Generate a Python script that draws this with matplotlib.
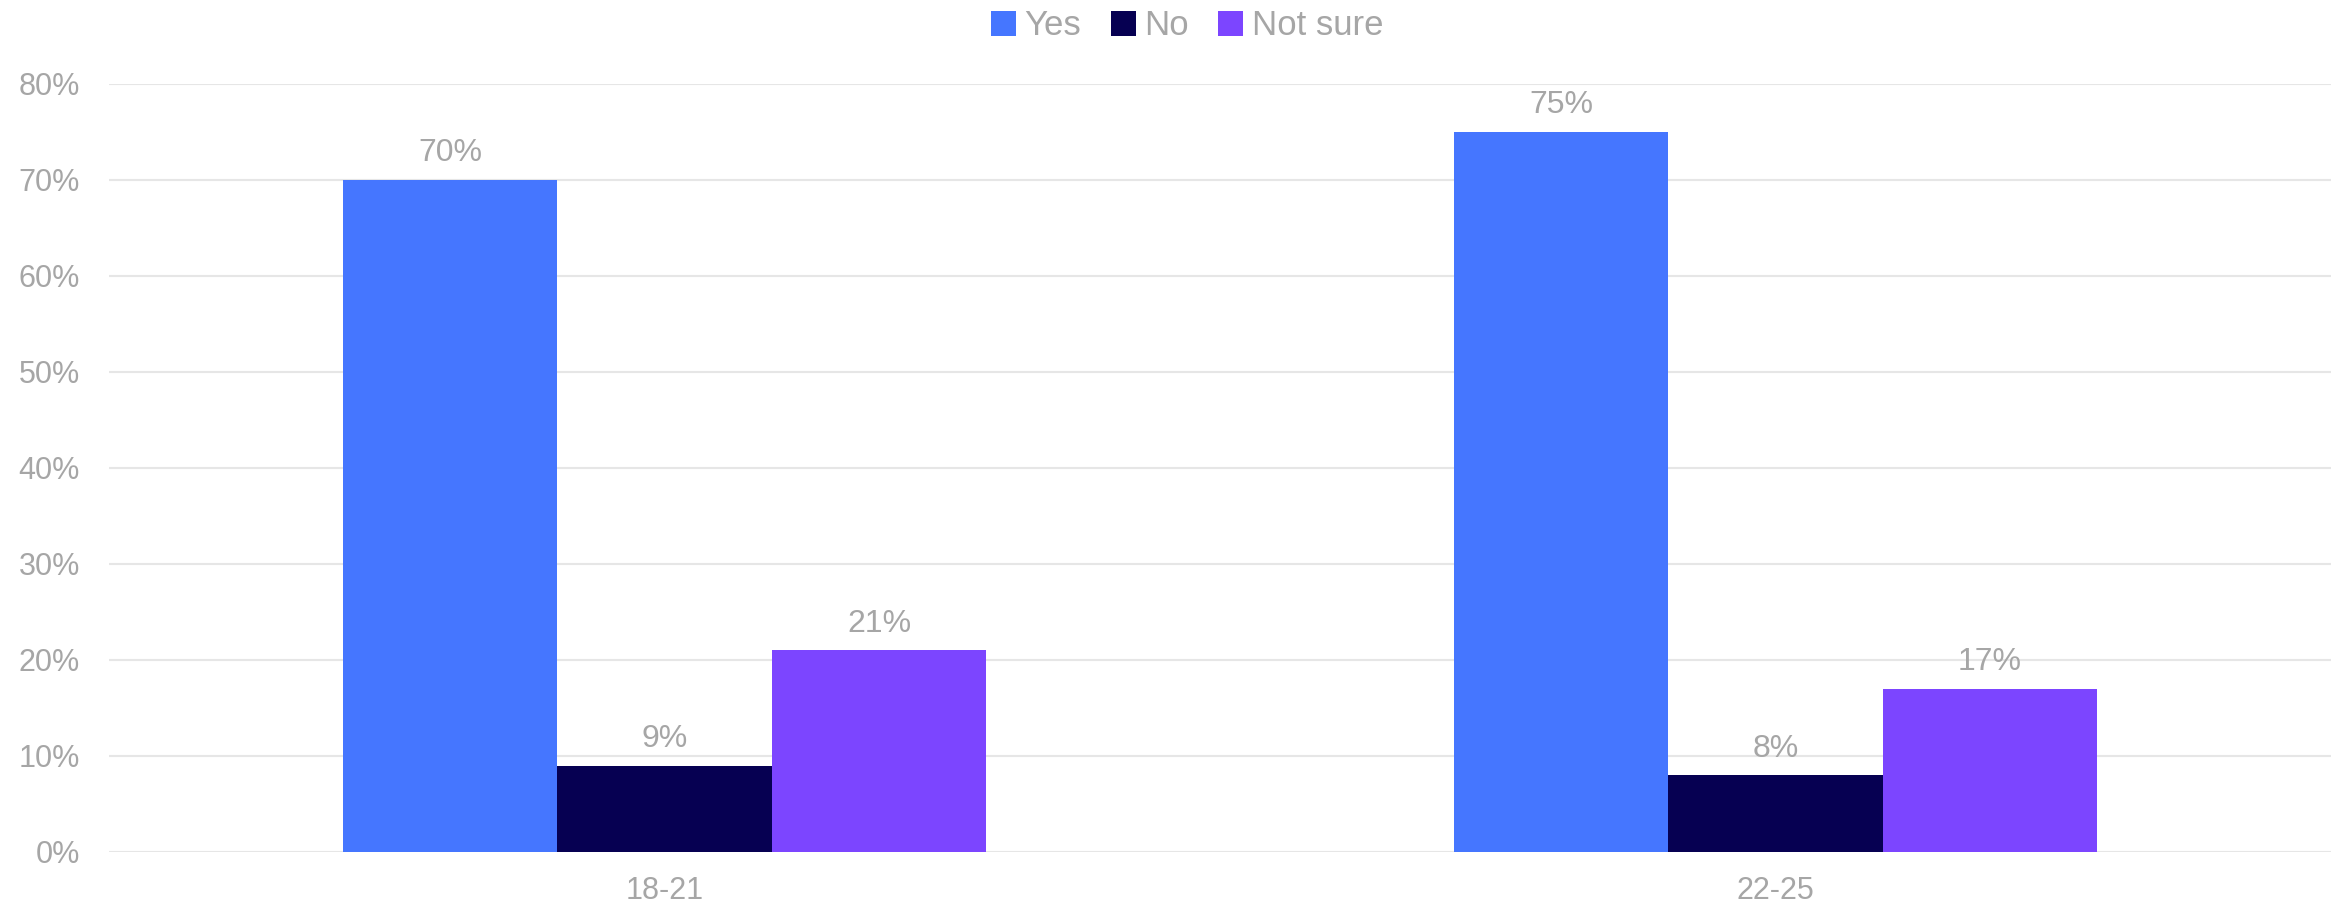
import numpy as np
import matplotlib.pyplot as plt

plt.rcParams['font.family'] = ['Liberation Sans', 'DejaVu Sans']

groups = ["18-21", "22-25"]
series = ["Yes", "No", "Not sure"]
yes = [70, 75]
no = [9, 8]
not_sure = [21, 17]
colors = ["#4576FF", "#060052", "#7C45FF"]

grey = "#A6A6A6"

fig = plt.figure(figsize=(23.46, 9.08), dpi=100)
ax = fig.add_axes([0.0465, 0.0617, 0.9471, 0.8458])

x = np.arange(len(groups))
w = 0.193
for i, (name, vals) in enumerate(zip(series, [yes, no, not_sure])):
    pos = x + (i - 1) * w
    bars = ax.bar(pos, np.array(vals) / 100, w, color=colors[i], label=name, zorder=3)
    for b, v in zip(bars, vals):
        ax.text(b.get_x() + b.get_width() / 2, b.get_height() + 0.012, f"{v}%",
                ha="center", va="bottom", fontsize=23, color=grey)

ax.set_xlim(-0.5, 1.5)
ax.set_ylim(0, 0.8)
ax.set_yticks(np.arange(0, 0.81, 0.1))
ax.set_yticklabels([f"{int(round(t * 100))}%" for t in np.arange(0, 0.81, 0.1)])
ax.set_xticks(x)
ax.set_xticklabels(groups)
ax.tick_params(axis="both", length=0, labelsize=22, labelcolor=grey)
ax.tick_params(axis="y", pad=21)
ax.tick_params(axis="x", pad=17)
ax.grid(axis="y", color="#E6E6E6", linewidth=1.5, zorder=0)
for s in ax.spines.values():
    s.set_visible(False)

handles, labels = ax.get_legend_handles_labels()
leg = fig.legend(handles, labels, loc="lower center", bbox_to_anchor=(0.506, 0.938), ncol=3,
                 frameon=False, fontsize=25, handlelength=0.72, handleheight=0.72,
                 handletextpad=0.25, columnspacing=0.85, borderaxespad=0)
for t in leg.get_texts():
    t.set_color(grey)

fig.savefig("out.png", dpi=100)
